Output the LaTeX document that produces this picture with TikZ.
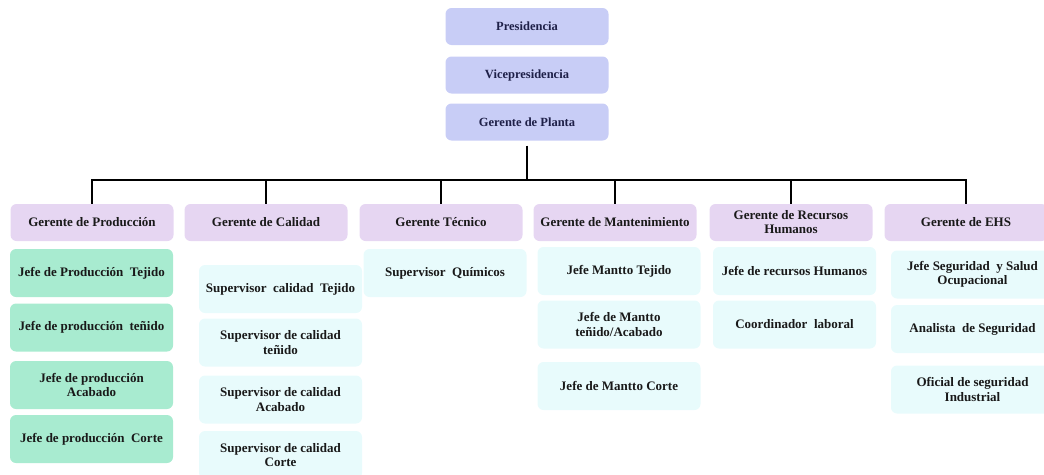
\documentclass[tikz,border=0pt]{standalone}
\usepackage{fontspec}
\setmainfont{Liberation Serif}
\begin{document}
\begin{tikzpicture}[x=1pt,y=-1pt,
  box/.style={rounded corners=6pt, inner sep=2pt, align=center, font=\bfseries\fontsize{13}{14.5}\selectfont, text=black!90},
  topbox/.style={box, fill=topfill, minimum width=163pt, minimum height=37pt, text=topink, font=\bfseries\fontsize{12.5}{14}\selectfont},
  mgrbox/.style={box, fill=mgrfill, minimum width=163pt, minimum height=37pt, font=\bfseries\fontsize{13}{14}\selectfont},
  prodbox/.style={box, fill=prodfill, minimum width=163pt, minimum height=48pt},
  subbox/.style={box, fill=subfill, minimum width=163pt, minimum height=48pt},
  conn/.style={draw=black, line width=2.2pt}]
\definecolor{topfill}{RGB}{200,205,246}
\definecolor{topink}{RGB}{30,32,72}
\definecolor{mgrfill}{RGB}{230,214,242}
\definecolor{prodfill}{RGB}{168,235,208}
\definecolor{subfill}{RGB}{232,251,252}
\useasboundingbox (0,0) rectangle (1044,474);
\clip (0,0) rectangle (1044,474);

% top of the hierarchy
\node[topbox] (pres)   at (527,26.5) {Presidencia};
\node[topbox] (vice)   at (527,75)   {Vicepresidencia};
\node[topbox] (planta) at (527,122)  {Gerente de Planta};

% managers
\node[mgrbox] (gprod) at (92,222.5)  {Gerente de Producción};
\node[mgrbox] (gcal)  at (266,222.5) {Gerente de Calidad};
\node[mgrbox] (gtec)  at (441,222.5) {Gerente Técnico};
\node[mgrbox] (gmant) at (615,222.5) {Gerente de Mantenimiento};
\node[mgrbox] (grh)   at (791,222.5) {Gerente de Recursos\\Humanos};
\node[mgrbox] (gehs)  at (966,222.5) {Gerente de EHS};

% connectors
\draw[conn] ([yshift=-5pt]planta.south) -- (527,180) coordinate (bus);
\foreach \m in {gprod,gcal,gtec,gmant,grh,gehs}
  \draw[conn] (bus) -| (\m.north);

% production
\node[prodbox] (p1) at (91.5,273)   {Jefe de Producción\ \ Tejido};
\node[prodbox] (p2) at (91.5,327.5) {Jefe de producción\ \ teñido};
\node[prodbox] (p3) at (91.5,385)   {Jefe de producción\\Acabado};
\node[prodbox] (p4) at (91.5,439)   {Jefe de producción\ \ Corte};

% quality
\node[subbox] (c1) at (280.5,289)   {Supervisor\ \ calidad\ \ Tejido};
\node[subbox] (c2) at (280.5,342.5) {Supervisor de calidad\\teñido};
\node[subbox] (c3) at (280.5,399.5) {Supervisor de calidad\\Acabado};
\node[subbox] (c4) at (280.5,455)   {Supervisor de calidad\\Corte};

% technical
\node[subbox] (t1) at (445,273) {Supervisor\ \ Químicos};

% maintenance
\node[subbox] (m1) at (619,271)   {Jefe Mantto Tejido};
\node[subbox] (m2) at (619,324.5) {Jefe de Mantto\\teñido/Acabado};
\node[subbox] (m3) at (619,386)   {Jefe de Mantto Corte};

% human resources
\node[subbox] (r1) at (794.5,271)   {Jefe de recursos Humanos};
\node[subbox] (r2) at (794.5,324.5) {Coordinador\ \ laboral};

% EHS
\node[subbox] (e1) at (972.5,274.5) {Jefe Seguridad\ \ y Salud\\Ocupacional};
\node[subbox] (e2) at (972.5,329)   {Analista\ \ de Seguridad};
\node[subbox] (e3) at (972.5,389.5) {Oficial de seguridad\\Industrial};
\end{tikzpicture}
\end{document}
